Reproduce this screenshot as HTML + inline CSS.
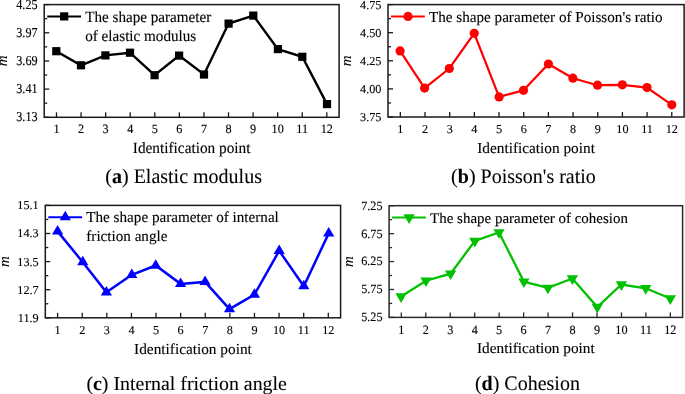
<!DOCTYPE html><html><head><meta charset="utf-8"><style>html,body{margin:0;padding:0;background:#fff;width:685px;height:394px;overflow:hidden}svg{display:block}text{font-family:"Liberation Serif",serif;fill:#000;stroke:#000;stroke-width:0.12px}.cap{stroke-width:0.08px}svg{will-change:transform;text-rendering:geometricPrecision}</style></head><body>
<svg width="685" height="394" viewBox="0 0 685 394">
<g><line x1="44.2" y1="4.6" x2="49.2" y2="4.6" stroke="#1a1a1a" stroke-width="1.3"/><text transform="translate(37.6 8.5) scale(1 1.12)" font-size="12.2" text-anchor="end">4.25</text><line x1="44.2" y1="18.69" x2="47.2" y2="18.69" stroke="#1a1a1a" stroke-width="1.3"/><line x1="44.2" y1="32.77" x2="49.2" y2="32.77" stroke="#1a1a1a" stroke-width="1.3"/><text transform="translate(37.6 36.67) scale(1 1.12)" font-size="12.2" text-anchor="end">3.97</text><line x1="44.2" y1="46.86" x2="47.2" y2="46.86" stroke="#1a1a1a" stroke-width="1.3"/><line x1="44.2" y1="60.95" x2="49.2" y2="60.95" stroke="#1a1a1a" stroke-width="1.3"/><text transform="translate(37.6 64.85) scale(1 1.12)" font-size="12.2" text-anchor="end">3.69</text><line x1="44.2" y1="75.04" x2="47.2" y2="75.04" stroke="#1a1a1a" stroke-width="1.3"/><line x1="44.2" y1="89.12" x2="49.2" y2="89.12" stroke="#1a1a1a" stroke-width="1.3"/><text transform="translate(37.6 93.03) scale(1 1.12)" font-size="12.2" text-anchor="end">3.41</text><line x1="44.2" y1="103.21" x2="47.2" y2="103.21" stroke="#1a1a1a" stroke-width="1.3"/><line x1="44.2" y1="117.3" x2="49.2" y2="117.3" stroke="#1a1a1a" stroke-width="1.3"/><text transform="translate(37.6 121.2) scale(1 1.12)" font-size="12.2" text-anchor="end">3.13</text><line x1="56.49" y1="117.3" x2="56.49" y2="112.3" stroke="#1a1a1a" stroke-width="1.3"/><text transform="translate(56.49 133.2) scale(1 1.04)" font-size="12.2" text-anchor="middle">1</text><line x1="81.06" y1="117.3" x2="81.06" y2="112.3" stroke="#1a1a1a" stroke-width="1.3"/><text transform="translate(81.06 133.2) scale(1 1.04)" font-size="12.2" text-anchor="middle">2</text><line x1="105.64" y1="117.3" x2="105.64" y2="112.3" stroke="#1a1a1a" stroke-width="1.3"/><text transform="translate(105.64 133.2) scale(1 1.04)" font-size="12.2" text-anchor="middle">3</text><line x1="130.21" y1="117.3" x2="130.21" y2="112.3" stroke="#1a1a1a" stroke-width="1.3"/><text transform="translate(130.21 133.2) scale(1 1.04)" font-size="12.2" text-anchor="middle">4</text><line x1="154.79" y1="117.3" x2="154.79" y2="112.3" stroke="#1a1a1a" stroke-width="1.3"/><text transform="translate(154.79 133.2) scale(1 1.04)" font-size="12.2" text-anchor="middle">5</text><line x1="179.36" y1="117.3" x2="179.36" y2="112.3" stroke="#1a1a1a" stroke-width="1.3"/><text transform="translate(179.36 133.2) scale(1 1.04)" font-size="12.2" text-anchor="middle">6</text><line x1="203.94" y1="117.3" x2="203.94" y2="112.3" stroke="#1a1a1a" stroke-width="1.3"/><text transform="translate(203.94 133.2) scale(1 1.04)" font-size="12.2" text-anchor="middle">7</text><line x1="228.51" y1="117.3" x2="228.51" y2="112.3" stroke="#1a1a1a" stroke-width="1.3"/><text transform="translate(228.51 133.2) scale(1 1.04)" font-size="12.2" text-anchor="middle">8</text><line x1="253.09" y1="117.3" x2="253.09" y2="112.3" stroke="#1a1a1a" stroke-width="1.3"/><text transform="translate(253.09 133.2) scale(1 1.04)" font-size="12.2" text-anchor="middle">9</text><line x1="277.66" y1="117.3" x2="277.66" y2="112.3" stroke="#1a1a1a" stroke-width="1.3"/><text transform="translate(277.66 133.2) scale(1 1.04)" font-size="12.2" text-anchor="middle">10</text><line x1="302.24" y1="117.3" x2="302.24" y2="112.3" stroke="#1a1a1a" stroke-width="1.3"/><text transform="translate(302.24 133.2) scale(1 1.04)" font-size="12.2" text-anchor="middle">11</text><line x1="326.81" y1="117.3" x2="326.81" y2="112.3" stroke="#1a1a1a" stroke-width="1.3"/><text transform="translate(326.81 133.2) scale(1 1.04)" font-size="12.2" text-anchor="middle">12</text><rect x="44.2" y="4.6" width="294.9" height="112.7" fill="none" stroke="#1a1a1a" stroke-width="1.5"/><path d="M56.3 51.2L81 65.3L105.4 55.4L130 52.7L154.6 75.2L179.1 55.6L204 74.5L228.6 23.6L253.3 15.6L277.9 49.1L302.3 56.8L327 104.1" fill="none" stroke="#000" stroke-width="2.4" stroke-linejoin="miter"/><rect x="52.2" y="47.1" width="8.2" height="8.2" fill="#000"/><rect x="76.9" y="61.2" width="8.2" height="8.2" fill="#000"/><rect x="101.3" y="51.3" width="8.2" height="8.2" fill="#000"/><rect x="125.9" y="48.6" width="8.2" height="8.2" fill="#000"/><rect x="150.5" y="71.1" width="8.2" height="8.2" fill="#000"/><rect x="175" y="51.5" width="8.2" height="8.2" fill="#000"/><rect x="199.9" y="70.4" width="8.2" height="8.2" fill="#000"/><rect x="224.5" y="19.5" width="8.2" height="8.2" fill="#000"/><rect x="249.2" y="11.5" width="8.2" height="8.2" fill="#000"/><rect x="273.8" y="45" width="8.2" height="8.2" fill="#000"/><rect x="298.2" y="52.7" width="8.2" height="8.2" fill="#000"/><rect x="322.9" y="100" width="8.2" height="8.2" fill="#000"/><line x1="47.2" y1="16.4" x2="81" y2="16.4" stroke="#000" stroke-width="2"/><rect x="60.1" y="12.3" width="8.2" height="8.2" fill="#000"/><text transform="translate(85.2 21.7) scale(1 1.03)" font-size="15.15">The shape parameter</text><text transform="translate(85.2 40.7) scale(1 1.03)" font-size="15.15">of elastic modulus</text><text transform="translate(191.65 153) scale(1 1.03)" font-size="15.3" text-anchor="middle">Identification point</text><text transform="translate(7.1 60.95) rotate(-90) scale(1 1.03)" font-size="15" font-style="italic" text-anchor="middle">m</text><text transform="translate(105.3 182.9) scale(1 1.03)" font-size="20" class="cap">(<tspan font-weight="bold">a</tspan>) Elastic modulus</text></g>
<g><line x1="388" y1="4.6" x2="393" y2="4.6" stroke="#1a1a1a" stroke-width="1.3"/><text transform="translate(381.4 8.5) scale(1 1.0)" font-size="12.2" text-anchor="end">4.75</text><line x1="388" y1="18.65" x2="391" y2="18.65" stroke="#1a1a1a" stroke-width="1.3"/><line x1="388" y1="32.7" x2="393" y2="32.7" stroke="#1a1a1a" stroke-width="1.3"/><text transform="translate(381.4 36.6) scale(1 1.0)" font-size="12.2" text-anchor="end">4.50</text><line x1="388" y1="46.75" x2="391" y2="46.75" stroke="#1a1a1a" stroke-width="1.3"/><line x1="388" y1="60.8" x2="393" y2="60.8" stroke="#1a1a1a" stroke-width="1.3"/><text transform="translate(381.4 64.7) scale(1 1.0)" font-size="12.2" text-anchor="end">4.25</text><line x1="388" y1="74.85" x2="391" y2="74.85" stroke="#1a1a1a" stroke-width="1.3"/><line x1="388" y1="88.9" x2="393" y2="88.9" stroke="#1a1a1a" stroke-width="1.3"/><text transform="translate(381.4 92.8) scale(1 1.0)" font-size="12.2" text-anchor="end">4.00</text><line x1="388" y1="102.95" x2="391" y2="102.95" stroke="#1a1a1a" stroke-width="1.3"/><line x1="388" y1="117" x2="393" y2="117" stroke="#1a1a1a" stroke-width="1.3"/><text transform="translate(381.4 120.9) scale(1 1.0)" font-size="12.2" text-anchor="end">3.75</text><line x1="400.34" y1="117" x2="400.34" y2="112" stroke="#1a1a1a" stroke-width="1.3"/><text transform="translate(400.34 133.2) scale(1 1.0)" font-size="12.2" text-anchor="middle">1</text><line x1="425.01" y1="117" x2="425.01" y2="112" stroke="#1a1a1a" stroke-width="1.3"/><text transform="translate(425.01 133.2) scale(1 1.0)" font-size="12.2" text-anchor="middle">2</text><line x1="449.69" y1="117" x2="449.69" y2="112" stroke="#1a1a1a" stroke-width="1.3"/><text transform="translate(449.69 133.2) scale(1 1.0)" font-size="12.2" text-anchor="middle">3</text><line x1="474.36" y1="117" x2="474.36" y2="112" stroke="#1a1a1a" stroke-width="1.3"/><text transform="translate(474.36 133.2) scale(1 1.0)" font-size="12.2" text-anchor="middle">4</text><line x1="499.04" y1="117" x2="499.04" y2="112" stroke="#1a1a1a" stroke-width="1.3"/><text transform="translate(499.04 133.2) scale(1 1.0)" font-size="12.2" text-anchor="middle">5</text><line x1="523.71" y1="117" x2="523.71" y2="112" stroke="#1a1a1a" stroke-width="1.3"/><text transform="translate(523.71 133.2) scale(1 1.0)" font-size="12.2" text-anchor="middle">6</text><line x1="548.39" y1="117" x2="548.39" y2="112" stroke="#1a1a1a" stroke-width="1.3"/><text transform="translate(548.39 133.2) scale(1 1.0)" font-size="12.2" text-anchor="middle">7</text><line x1="573.06" y1="117" x2="573.06" y2="112" stroke="#1a1a1a" stroke-width="1.3"/><text transform="translate(573.06 133.2) scale(1 1.0)" font-size="12.2" text-anchor="middle">8</text><line x1="597.74" y1="117" x2="597.74" y2="112" stroke="#1a1a1a" stroke-width="1.3"/><text transform="translate(597.74 133.2) scale(1 1.0)" font-size="12.2" text-anchor="middle">9</text><line x1="622.41" y1="117" x2="622.41" y2="112" stroke="#1a1a1a" stroke-width="1.3"/><text transform="translate(622.41 133.2) scale(1 1.0)" font-size="12.2" text-anchor="middle">10</text><line x1="647.09" y1="117" x2="647.09" y2="112" stroke="#1a1a1a" stroke-width="1.3"/><text transform="translate(647.09 133.2) scale(1 1.0)" font-size="12.2" text-anchor="middle">11</text><line x1="671.76" y1="117" x2="671.76" y2="112" stroke="#1a1a1a" stroke-width="1.3"/><text transform="translate(671.76 133.2) scale(1 1.0)" font-size="12.2" text-anchor="middle">12</text><rect x="388" y="4.6" width="296.1" height="112.4" fill="none" stroke="#1a1a1a" stroke-width="1.5"/><path d="M400.1 50.9L424.6 88.1L449.3 68.5L474.2 33.3L499.1 96.9L523.5 90.3L548.4 64L572.9 78.2L597.5 85.2L622.3 84.8L647 87.6L671.8 104.8" fill="none" stroke="#ff0000" stroke-width="2.2" stroke-linejoin="miter"/><circle cx="400.1" cy="50.9" r="4.6" fill="#ff0000"/><circle cx="424.6" cy="88.1" r="4.6" fill="#ff0000"/><circle cx="449.3" cy="68.5" r="4.6" fill="#ff0000"/><circle cx="474.2" cy="33.3" r="4.6" fill="#ff0000"/><circle cx="499.1" cy="96.9" r="4.6" fill="#ff0000"/><circle cx="523.5" cy="90.3" r="4.6" fill="#ff0000"/><circle cx="548.4" cy="64" r="4.6" fill="#ff0000"/><circle cx="572.9" cy="78.2" r="4.6" fill="#ff0000"/><circle cx="597.5" cy="85.2" r="4.6" fill="#ff0000"/><circle cx="622.3" cy="84.8" r="4.6" fill="#ff0000"/><circle cx="647" cy="87.6" r="4.6" fill="#ff0000"/><circle cx="671.8" cy="104.8" r="4.6" fill="#ff0000"/><line x1="391" y1="16.4" x2="424.8" y2="16.4" stroke="#ff0000" stroke-width="2"/><circle cx="408" cy="16.4" r="4.6" fill="#ff0000"/><text transform="translate(429 21.9) scale(1 1.0)" font-size="15.15">The shape parameter of Poisson&#39;s ratio</text><text transform="translate(536.05 153.4) scale(1 1.0)" font-size="15.3" text-anchor="middle">Identification point</text><text transform="translate(351.1 60.8) rotate(-90) scale(1 1.0)" font-size="15" font-style="italic" text-anchor="middle">m</text><text transform="translate(451.1 182.6) scale(1 1.03)" font-size="20" class="cap">(<tspan font-weight="bold">b</tspan>) Poisson&#39;s ratio</text></g>
<g><line x1="45.3" y1="205.4" x2="50.3" y2="205.4" stroke="#1a1a1a" stroke-width="1.3"/><text transform="translate(38.7 209.3) scale(1 1.0)" font-size="12.2" text-anchor="end">15.1</text><line x1="45.3" y1="219.45" x2="48.3" y2="219.45" stroke="#1a1a1a" stroke-width="1.3"/><line x1="45.3" y1="233.5" x2="50.3" y2="233.5" stroke="#1a1a1a" stroke-width="1.3"/><text transform="translate(38.7 237.4) scale(1 1.0)" font-size="12.2" text-anchor="end">14.3</text><line x1="45.3" y1="247.55" x2="48.3" y2="247.55" stroke="#1a1a1a" stroke-width="1.3"/><line x1="45.3" y1="261.6" x2="50.3" y2="261.6" stroke="#1a1a1a" stroke-width="1.3"/><text transform="translate(38.7 265.5) scale(1 1.0)" font-size="12.2" text-anchor="end">13.5</text><line x1="45.3" y1="275.65" x2="48.3" y2="275.65" stroke="#1a1a1a" stroke-width="1.3"/><line x1="45.3" y1="289.7" x2="50.3" y2="289.7" stroke="#1a1a1a" stroke-width="1.3"/><text transform="translate(38.7 293.6) scale(1 1.0)" font-size="12.2" text-anchor="end">12.7</text><line x1="45.3" y1="303.75" x2="48.3" y2="303.75" stroke="#1a1a1a" stroke-width="1.3"/><line x1="45.3" y1="317.8" x2="50.3" y2="317.8" stroke="#1a1a1a" stroke-width="1.3"/><text transform="translate(38.7 321.7) scale(1 1.0)" font-size="12.2" text-anchor="end">11.9</text><line x1="57.6" y1="317.8" x2="57.6" y2="312.8" stroke="#1a1a1a" stroke-width="1.3"/><text transform="translate(57.6 333.8) scale(1 1.0)" font-size="12.2" text-anchor="middle">1</text><line x1="82.21" y1="317.8" x2="82.21" y2="312.8" stroke="#1a1a1a" stroke-width="1.3"/><text transform="translate(82.21 333.8) scale(1 1.0)" font-size="12.2" text-anchor="middle">2</text><line x1="106.82" y1="317.8" x2="106.82" y2="312.8" stroke="#1a1a1a" stroke-width="1.3"/><text transform="translate(106.82 333.8) scale(1 1.0)" font-size="12.2" text-anchor="middle">3</text><line x1="131.43" y1="317.8" x2="131.43" y2="312.8" stroke="#1a1a1a" stroke-width="1.3"/><text transform="translate(131.43 333.8) scale(1 1.0)" font-size="12.2" text-anchor="middle">4</text><line x1="156.04" y1="317.8" x2="156.04" y2="312.8" stroke="#1a1a1a" stroke-width="1.3"/><text transform="translate(156.04 333.8) scale(1 1.0)" font-size="12.2" text-anchor="middle">5</text><line x1="180.65" y1="317.8" x2="180.65" y2="312.8" stroke="#1a1a1a" stroke-width="1.3"/><text transform="translate(180.65 333.8) scale(1 1.0)" font-size="12.2" text-anchor="middle">6</text><line x1="205.25" y1="317.8" x2="205.25" y2="312.8" stroke="#1a1a1a" stroke-width="1.3"/><text transform="translate(205.25 333.8) scale(1 1.0)" font-size="12.2" text-anchor="middle">7</text><line x1="229.86" y1="317.8" x2="229.86" y2="312.8" stroke="#1a1a1a" stroke-width="1.3"/><text transform="translate(229.86 333.8) scale(1 1.0)" font-size="12.2" text-anchor="middle">8</text><line x1="254.47" y1="317.8" x2="254.47" y2="312.8" stroke="#1a1a1a" stroke-width="1.3"/><text transform="translate(254.47 333.8) scale(1 1.0)" font-size="12.2" text-anchor="middle">9</text><line x1="279.08" y1="317.8" x2="279.08" y2="312.8" stroke="#1a1a1a" stroke-width="1.3"/><text transform="translate(279.08 333.8) scale(1 1.0)" font-size="12.2" text-anchor="middle">10</text><line x1="303.69" y1="317.8" x2="303.69" y2="312.8" stroke="#1a1a1a" stroke-width="1.3"/><text transform="translate(303.69 333.8) scale(1 1.0)" font-size="12.2" text-anchor="middle">11</text><line x1="328.3" y1="317.8" x2="328.3" y2="312.8" stroke="#1a1a1a" stroke-width="1.3"/><text transform="translate(328.3 333.8) scale(1 1.0)" font-size="12.2" text-anchor="middle">12</text><rect x="45.3" y="205.4" width="295.3" height="112.4" fill="none" stroke="#1a1a1a" stroke-width="1.5"/><path d="M57.6 231.38L82.8 262.18L106.4 292.38L131.8 274.78L155.7 265.48L180.6 283.88L205.1 281.88L229.5 309.08L254.4 294.58L279.2 250.78L303.8 286.18L328.7 233.38" fill="none" stroke="#0000ff" stroke-width="2.5" stroke-linejoin="miter"/><path d="M57.6 225.05L63.2 234.55L52 234.55Z" fill="#0000ff"/><path d="M82.8 255.85L88.4 265.35L77.2 265.35Z" fill="#0000ff"/><path d="M106.4 286.05L112 295.55L100.8 295.55Z" fill="#0000ff"/><path d="M131.8 268.45L137.4 277.95L126.2 277.95Z" fill="#0000ff"/><path d="M155.7 259.15L161.3 268.65L150.1 268.65Z" fill="#0000ff"/><path d="M180.6 277.55L186.2 287.05L175 287.05Z" fill="#0000ff"/><path d="M205.1 275.55L210.7 285.05L199.5 285.05Z" fill="#0000ff"/><path d="M229.5 302.75L235.1 312.25L223.9 312.25Z" fill="#0000ff"/><path d="M254.4 288.25L260 297.75L248.8 297.75Z" fill="#0000ff"/><path d="M279.2 244.45L284.8 253.95L273.6 253.95Z" fill="#0000ff"/><path d="M303.8 279.85L309.4 289.35L298.2 289.35Z" fill="#0000ff"/><path d="M328.7 227.05L334.3 236.55L323.1 236.55Z" fill="#0000ff"/><line x1="48.3" y1="217.2" x2="82.1" y2="217.2" stroke="#0000ff" stroke-width="2"/><path d="M65.3 210.87L70.9 220.37L59.7 220.37Z" fill="#0000ff"/><text transform="translate(86.3 222.2) scale(1 1.0)" font-size="15.15">The shape parameter of internal</text><text transform="translate(86.3 240.6) scale(1 1.0)" font-size="15.15">friction angle</text><text transform="translate(192.95 353.5) scale(1 1.0)" font-size="15.3" text-anchor="middle">Identification point</text><text transform="translate(8.9 261.6) rotate(-90) scale(1 1.0)" font-size="15" font-style="italic" text-anchor="middle">m</text><text transform="translate(86.4 389.9) scale(1 0.99)" font-size="19.9" class="cap">(<tspan font-weight="bold">c</tspan>) Internal friction angle</text></g>
<g><line x1="389.1" y1="205.7" x2="394.1" y2="205.7" stroke="#2a2a2a" stroke-width="1.3"/><text transform="translate(382.5 209.6) scale(1 1.04)" font-size="12.2" text-anchor="end">7.25</text><line x1="389.1" y1="219.66" x2="392.1" y2="219.66" stroke="#2a2a2a" stroke-width="1.3"/><line x1="389.1" y1="233.62" x2="394.1" y2="233.62" stroke="#2a2a2a" stroke-width="1.3"/><text transform="translate(382.5 237.53) scale(1 1.04)" font-size="12.2" text-anchor="end">6.75</text><line x1="389.1" y1="247.59" x2="392.1" y2="247.59" stroke="#2a2a2a" stroke-width="1.3"/><line x1="389.1" y1="261.55" x2="394.1" y2="261.55" stroke="#2a2a2a" stroke-width="1.3"/><text transform="translate(382.5 265.45) scale(1 1.04)" font-size="12.2" text-anchor="end">6.25</text><line x1="389.1" y1="275.51" x2="392.1" y2="275.51" stroke="#2a2a2a" stroke-width="1.3"/><line x1="389.1" y1="289.47" x2="394.1" y2="289.47" stroke="#2a2a2a" stroke-width="1.3"/><text transform="translate(382.5 293.37) scale(1 1.04)" font-size="12.2" text-anchor="end">5.75</text><line x1="389.1" y1="303.44" x2="392.1" y2="303.44" stroke="#2a2a2a" stroke-width="1.3"/><line x1="389.1" y1="317.4" x2="394.1" y2="317.4" stroke="#2a2a2a" stroke-width="1.3"/><text transform="translate(382.5 321.3) scale(1 1.04)" font-size="12.2" text-anchor="end">5.25</text><line x1="401.33" y1="317.4" x2="401.33" y2="312.4" stroke="#2a2a2a" stroke-width="1.3"/><text transform="translate(401.33 333.8) scale(1 1.04)" font-size="12.2" text-anchor="middle">1</text><line x1="425.79" y1="317.4" x2="425.79" y2="312.4" stroke="#2a2a2a" stroke-width="1.3"/><text transform="translate(425.79 333.8) scale(1 1.04)" font-size="12.2" text-anchor="middle">2</text><line x1="450.25" y1="317.4" x2="450.25" y2="312.4" stroke="#2a2a2a" stroke-width="1.3"/><text transform="translate(450.25 333.8) scale(1 1.04)" font-size="12.2" text-anchor="middle">3</text><line x1="474.7" y1="317.4" x2="474.7" y2="312.4" stroke="#2a2a2a" stroke-width="1.3"/><text transform="translate(474.7 333.8) scale(1 1.04)" font-size="12.2" text-anchor="middle">4</text><line x1="499.16" y1="317.4" x2="499.16" y2="312.4" stroke="#2a2a2a" stroke-width="1.3"/><text transform="translate(499.16 333.8) scale(1 1.04)" font-size="12.2" text-anchor="middle">5</text><line x1="523.62" y1="317.4" x2="523.62" y2="312.4" stroke="#2a2a2a" stroke-width="1.3"/><text transform="translate(523.62 333.8) scale(1 1.04)" font-size="12.2" text-anchor="middle">6</text><line x1="548.08" y1="317.4" x2="548.08" y2="312.4" stroke="#2a2a2a" stroke-width="1.3"/><text transform="translate(548.08 333.8) scale(1 1.04)" font-size="12.2" text-anchor="middle">7</text><line x1="572.54" y1="317.4" x2="572.54" y2="312.4" stroke="#2a2a2a" stroke-width="1.3"/><text transform="translate(572.54 333.8) scale(1 1.04)" font-size="12.2" text-anchor="middle">8</text><line x1="597" y1="317.4" x2="597" y2="312.4" stroke="#2a2a2a" stroke-width="1.3"/><text transform="translate(597 333.8) scale(1 1.04)" font-size="12.2" text-anchor="middle">9</text><line x1="621.45" y1="317.4" x2="621.45" y2="312.4" stroke="#2a2a2a" stroke-width="1.3"/><text transform="translate(621.45 333.8) scale(1 1.04)" font-size="12.2" text-anchor="middle">10</text><line x1="645.91" y1="317.4" x2="645.91" y2="312.4" stroke="#2a2a2a" stroke-width="1.3"/><text transform="translate(645.91 333.8) scale(1 1.04)" font-size="12.2" text-anchor="middle">11</text><line x1="670.37" y1="317.4" x2="670.37" y2="312.4" stroke="#2a2a2a" stroke-width="1.3"/><text transform="translate(670.37 333.8) scale(1 1.04)" font-size="12.2" text-anchor="middle">12</text><rect x="389.1" y="205.7" width="293.5" height="111.7" fill="none" stroke="#2a2a2a" stroke-width="1.5"/><path d="M401.1 296.5L426 280.7L450.6 273.7L474.8 241L499 232.4L523.9 281.7L547.9 287.9L572.4 278.5L597.3 307L621.4 284.5L645.7 288.3L670.3 298.5" fill="none" stroke="#00c000" stroke-width="2.3" stroke-linejoin="miter"/><path d="M401.1 302.9L406.75 293.3L395.45 293.3Z" fill="#00c000"/><path d="M426 287.1L431.65 277.5L420.35 277.5Z" fill="#00c000"/><path d="M450.6 280.1L456.25 270.5L444.95 270.5Z" fill="#00c000"/><path d="M474.8 247.4L480.45 237.8L469.15 237.8Z" fill="#00c000"/><path d="M499 238.8L504.65 229.2L493.35 229.2Z" fill="#00c000"/><path d="M523.9 288.1L529.55 278.5L518.25 278.5Z" fill="#00c000"/><path d="M547.9 294.3L553.55 284.7L542.25 284.7Z" fill="#00c000"/><path d="M572.4 284.9L578.05 275.3L566.75 275.3Z" fill="#00c000"/><path d="M597.3 313.4L602.95 303.8L591.65 303.8Z" fill="#00c000"/><path d="M621.4 290.9L627.05 281.3L615.75 281.3Z" fill="#00c000"/><path d="M645.7 294.7L651.35 285.1L640.05 285.1Z" fill="#00c000"/><path d="M670.3 304.9L675.95 295.3L664.65 295.3Z" fill="#00c000"/><line x1="392.1" y1="217.5" x2="425.9" y2="217.5" stroke="#00c000" stroke-width="2"/><path d="M409.1 223.9L414.75 214.3L403.45 214.3Z" fill="#00c000"/><text transform="translate(430.1 222.9) scale(1 0.98)" font-size="14.98">The shape parameter of cohesion</text><text transform="translate(535.85 352.8) scale(1 0.98)" font-size="15.3" text-anchor="middle">Identification point</text><text transform="translate(352.7 261.55) rotate(-90) scale(1 0.98)" font-size="15" font-style="italic" text-anchor="middle">m</text><text transform="translate(474.9 389.5) scale(1 1.03)" font-size="20" class="cap">(<tspan font-weight="bold">d</tspan>) Cohesion</text></g>
</svg></body></html>
